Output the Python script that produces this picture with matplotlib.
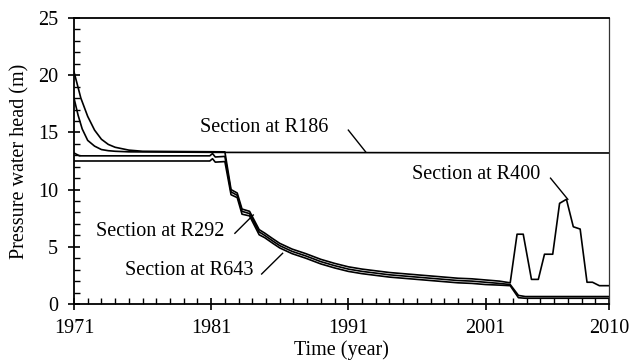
import matplotlib
matplotlib.use("Agg")
import matplotlib.pyplot as plt
from matplotlib.ticker import MultipleLocator, FixedLocator

plt.rcParams['font.family'] = ['Liberation Serif', 'DejaVu Serif']

# ---- data ----
# shared times for the falling part (1982 - 2002.8)
t_fall = [1982.0, 1982.45, 1982.9, 1983.25, 1983.8, 1984.5, 1984.9, 1985.5,
          1986.0, 1986.9, 1987.9, 1989, 1990, 1991, 1992, 1993, 1994, 1995,
          1996, 1997, 1998, 1999, 2000, 2001, 2002, 2002.8]

# R186 : decays then stays flat
t_r186 = [1971, 1971.3, 1971.6, 1972, 1972.5, 1973, 1973.5, 1974, 1975, 1982, 2010]
h_r186 = [18.0, 16.5, 15.3, 14.3, 13.8, 13.5, 13.4, 13.35, 13.3, 13.25, 13.2]

# R400
t_r400_start = [1971, 1971.5, 1972, 1972.5, 1973, 1973.5, 1974, 1975, 1976]
h_r400_start = [20.3, 18.0, 16.4, 15.2, 14.4, 13.95, 13.7, 13.45, 13.35]
h_r400_fall = [13.3, 10.0, 9.7, 8.3, 8.1, 6.5, 6.2, 5.7, 5.3, 4.8, 4.4,
               3.9, 3.55, 3.25, 3.05, 2.9, 2.75, 2.65, 2.55, 2.45, 2.35, 2.25, 2.2,
               2.1, 2.0, 1.85]
t_r400_end = [2003.3, 2003.75, 2004.35, 2004.85, 2005.3, 2005.9, 2006.4,
              2006.9, 2007.4, 2007.9, 2008.4, 2008.8, 2009.3, 2010]
h_r400_end = [6.1, 6.1, 2.15, 2.15, 4.35, 4.35, 8.8, 9.15, 6.75, 6.55,
              1.9, 1.9, 1.6, 1.6]

# R292 and R643
t_low_start = [1971, 1971.4, 1980.9, 1981.1, 1981.3]
t_low_end = [2003.4, 2003.9, 2010]
h_r292_start = [13.2, 12.95, 12.95, 13.15, 12.85]
h_r292_fall = [12.9, 9.8, 9.5, 8.1, 7.9, 6.3, 6.0, 5.5, 5.1, 4.6, 4.2,
               3.7, 3.35, 3.05, 2.85, 2.7, 2.55, 2.45, 2.35, 2.25, 2.15, 2.05,
               2.0, 1.9, 1.8, 1.7]
h_r292_end = [0.75, 0.65, 0.65]
h_r643_start = [12.5, 12.5, 12.5, 12.7, 12.4]
h_r643_fall = [12.45, 9.55, 9.3, 7.85, 7.7, 6.05, 5.8, 5.3, 4.9, 4.4, 4.0,
               3.5, 3.15, 2.85, 2.65, 2.5, 2.35, 2.25, 2.15, 2.05, 1.95, 1.85,
               1.8, 1.7, 1.65, 1.6]
h_r643_end = [0.55, 0.5, 0.5]

year_ticks = [1971, 1981, 1991, 2001, 2010]

fig = plt.figure(figsize=(6.35, 3.6), dpi=100)
ax = fig.add_axes([0.1165, 0.1556, 0.8425, 0.7944])

lw = 1.2
ax.plot(t_r186, h_r186, color='black', lw=lw)
ax.plot(t_r400_start + t_fall + t_r400_end, h_r400_start + h_r400_fall + h_r400_end,
        color='black', lw=lw)
ax.plot(t_low_start + t_fall + t_low_end, h_r292_start + h_r292_fall + h_r292_end,
        color='black', lw=lw)
ax.plot(t_low_start + t_fall + t_low_end, h_r643_start + h_r643_fall + h_r643_end,
        color='black', lw=lw)

ax.set_xlim(1971, 2010)
ax.set_ylim(0, 25)
ax.xaxis.set_major_locator(FixedLocator(year_ticks))
ax.xaxis.set_minor_locator(MultipleLocator(1))
ax.yaxis.set_major_locator(MultipleLocator(5))
ax.yaxis.set_minor_locator(MultipleLocator(1))
ax.tick_params(which='major', direction='inout', length=9, width=1.2, labelsize=14.5,
               top=False, right=False, colors='black')
ax.tick_params(which='minor', direction='in', length=4, width=1.0, top=False, right=False)
ax.tick_params(axis='x', which='major', pad=6)
ax.tick_params(axis='y', which='major', pad=7)

for s in ['left', 'bottom', 'top']:
    ax.spines[s].set_linewidth(1.3)
ax.spines['right'].set_linewidth(0.9)
ax.spines['right'].set_color('#333333')

ax.set_xlabel('Time (year)', fontsize=14.5, labelpad=2)
ax.set_ylabel('Pressure water head (m)', fontsize=14.5, labelpad=6)

fs = 14.5
labels = [
    ('Section at R186', (1984.9, 15.4), (1991.0, 15.2), (1992.26, 13.3)),
    ('Section at R400', (2000.35, 11.3), (2005.74, 11.0), (2007.0, 9.15)),
    ('Section at R292', (1977.3, 6.3), (1982.73, 6.18), (1984.07, 7.78)),
    ('Section at R643', (1979.4, 2.97), (1984.68, 2.62), (1986.21, 4.43)),
]
for txt, pos, p0, p1 in labels:
    ax.text(pos[0], pos[1], txt, fontsize=fs, ha='center', va='center')
    ax.plot([p0[0], p1[0]], [p0[1], p1[1]], color='black', lw=1.0)

fig.savefig('out.png', dpi=100)
